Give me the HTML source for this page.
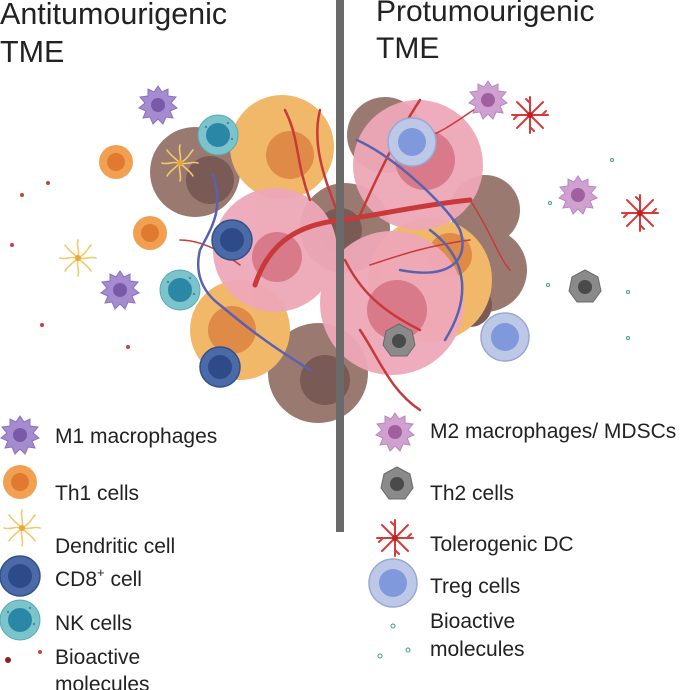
<!DOCTYPE html>
<html><head><meta charset="utf-8"><style>
html,body{margin:0;padding:0;background:#fff;}
body{width:681px;height:690px;overflow:hidden;position:relative;font-family:"Liberation Sans",sans-serif;}
svg{position:absolute;left:0;top:0;}
</style></head><body>
<svg width="681" height="690" viewBox="0 0 681 690" xmlns="http://www.w3.org/2000/svg">
<defs>
<g id="m1"><path d="M0,-19 L4,-13 L10,-16 L10,-9 L18,-8 L13,-2 L19,3 L12,6 L15,13 L8,12 L5,19 L0,14 L-5,19 L-8,12 L-15,13 L-12,6 L-19,3 L-13,-2 L-18,-8 L-10,-9 L-10,-16 L-4,-13 Z" fill="#a58bd0" stroke="#8a70bd" stroke-width="1"/><circle r="7" fill="#7a5aa8"/></g>
<g id="m2"><path d="M0,-19 L4,-13 L10,-16 L10,-9 L18,-8 L13,-2 L19,3 L12,6 L15,13 L8,12 L5,19 L0,14 L-5,19 L-8,12 L-15,13 L-12,6 L-19,3 L-13,-2 L-18,-8 L-10,-9 L-10,-16 L-4,-13 Z" fill="#cfa0d0" stroke="#b887bf" stroke-width="1"/><circle r="7" fill="#a060a0"/></g>
<g id="dc" stroke="#f2c96a" stroke-width="1.6" fill="none" stroke-linecap="round"><path d="M0,0 C2,-8 -2,-12 0,-18 M0,0 C8,-4 10,-10 13,-13 M0,0 C8,2 12,-2 18,0 M0,0 C6,6 10,8 13,13 M0,0 C-2,8 2,12 0,18 M0,0 C-6,6 -10,8 -13,13 M0,0 C-8,-2 -12,2 -18,0 M0,0 C-6,-6 -10,-8 -13,-13"/><circle r="3" fill="#e8a83a" stroke="none"/></g>
<g id="tdc" stroke="#d83a3a" stroke-width="2" fill="none" stroke-linecap="round"><path d="M0,0 L0,-18 M0,0 L13,-13 M0,0 L18,0 M0,0 L13,13 M0,0 L0,18 M0,0 L-13,13 M0,0 L-18,0 M0,0 L-13,-13 M0,-12 l-4,-4 M12,0 l4,-4 M0,12 l4,4 M-12,0 l-4,4"/><circle r="3" fill="#c02020" stroke="none"/></g>
<g id="th1"><circle r="17" fill="#f0a050"/><circle r="9" fill="#e07a30"/></g>
<g id="cd8"><circle r="20" fill="#4a6aa8" stroke="#34508a" stroke-width="1.5"/><circle r="12" fill="#2e4a88"/></g>
<g id="nk"><circle r="20" fill="#7cc4cc" stroke="#5aaab4" stroke-width="1"/><circle r="12" fill="#2a88a6"/><circle cx="-12" cy="-8" r="1.2" fill="#3a90a0"/><circle cx="10" cy="-12" r="1.2" fill="#3a90a0"/><circle cx="14" cy="4" r="1.2" fill="#3a90a0"/></g>
<g id="treg"><circle r="24" fill="#bcc8e6" stroke="#98a8d8" stroke-width="1.5"/><circle r="14" fill="#8098dc"/></g>
<g id="th2"><path d="M0,-17 L13,-10 L16,4 L8,15 L-8,15 L-16,4 L-13,-10 Z" fill="#8a8a8a" stroke="#6a6a6a"/><circle r="7" fill="#4a4a4a"/></g>
</defs>

<g fill="#9a7a70">
<circle cx="195" cy="172" r="45"/>
<circle cx="345" cy="228" r="45"/>
<circle cx="318" cy="373" r="50"/>
<circle cx="385" cy="135" r="38"/>
<circle cx="485" cy="270" r="42"/>
<circle cx="485" cy="210" r="35"/>
</g>
<g fill="#7a5a54">
<circle cx="210" cy="180" r="24"/><circle cx="340" cy="230" r="22"/><circle cx="325" cy="380" r="25"/><circle cx="470" cy="305" r="22"/>
</g>
<g fill="#f0b868">
<circle cx="282" cy="147" r="52"/>
<circle cx="240" cy="330" r="50"/>
<circle cx="430" cy="280" r="62"/>
</g>
<g fill="#e08a48"><circle cx="290" cy="155" r="24"/><circle cx="232" cy="330" r="24"/><circle cx="450" cy="255" r="22"/></g>
<g fill="#eea8b8" opacity="0.95">
<circle cx="275" cy="250" r="62"/>
<circle cx="418" cy="165" r="65"/>
<circle cx="392" cy="303" r="72"/>
</g>
<g fill="#d87a8a"><circle cx="277" cy="257" r="25"/><circle cx="425" cy="160" r="30"/><circle cx="397" cy="310" r="30"/></g>
<g fill="none" stroke="#c83a3a" stroke-linecap="round">
<path d="M255,285 C270,240 300,225 340,220 C380,215 420,205 470,200" stroke-width="5"/>
<path d="M340,220 C330,190 310,150 320,110 M310,200 C295,160 300,140 285,110 M360,215 C380,170 400,130 420,100 M345,260 C360,290 380,310 420,330 M360,330 C380,360 390,390 420,410" stroke-width="2.5"/>
<path d="M370,265 C400,255 430,245 470,240 M240,265 C220,250 200,240 180,240 M420,140 C450,130 470,110 490,100 M470,200 C490,230 500,260 510,270" stroke-width="1.5"/>
</g>
<g fill="none" stroke="#5a62b0" stroke-width="2.5" stroke-linecap="round">
<path d="M213,175 C225,210 210,230 200,250 C195,270 200,290 220,305 C250,330 270,345 310,370"/>
<path d="M357,140 C400,160 450,210 460,230 C470,260 450,280 400,270"/>
<path d="M430,230 C470,260 470,300 445,340"/>
</g>
<rect x="336" y="0" width="8" height="532" fill="#6a6a6a"/>

<use href="#m1" x="158" y="105"/><use href="#m1" x="120" y="290"/>
<use href="#dc" x="180" y="163"/><use href="#dc" x="78" y="258"/>
<use href="#th1" x="116" y="162"/><use href="#th1" x="150" y="233"/>
<use href="#cd8" x="232" y="240"/><use href="#cd8" x="220" y="367"/>
<use href="#nk" x="218" y="135"/><use href="#nk" x="180" y="290"/>
<use href="#treg" x="412" y="142"/><use href="#treg" x="505" y="337"/>
<use href="#th2" x="399" y="341"/><use href="#th2" x="585" y="287"/>
<use href="#m2" x="488" y="100"/><use href="#m2" x="578" y="195"/>
<use href="#tdc" x="530" y="115"/><use href="#tdc" x="640" y="213"/>
<g fill="#c84040"><circle cx="48" cy="183" r="2"/><circle cx="12" cy="245" r="2"/><circle cx="42" cy="325" r="2"/><circle cx="128" cy="347" r="2"/><circle cx="22" cy="195" r="2"/></g>
<g fill="none" stroke="#3aa08a" stroke-width="1"><circle cx="612" cy="160" r="1.5"/><circle cx="548" cy="285" r="1.5"/><circle cx="628" cy="292" r="1.5"/><circle cx="628" cy="338" r="1.5"/><circle cx="550" cy="203" r="1.5"/></g>

<use href="#m1" x="20" y="435"/>
<use href="#th1" x="20" y="482"/>
<use href="#dc" x="22" y="528"/>
<use href="#cd8" x="20" y="576"/>
<use href="#nk" x="20" y="620"/>
<circle cx="8" cy="660" r="3" fill="#8a2020"/><circle cx="40" cy="652" r="2" fill="#c84040"/>
<use href="#m2" x="395" y="432"/>
<use href="#th2" x="397" y="484"/>
<use href="#tdc" x="395" y="538"/>
<use href="#treg" x="393" y="583"/>
<circle cx="393" cy="626" r="2" fill="none" stroke="#3aa08a"/><circle cx="380" cy="656" r="2" fill="none" stroke="#3aa08a"/><circle cx="408" cy="650" r="2" fill="none" stroke="#3aa08a"/>

<g font-family="Liberation Sans, sans-serif" fill="#222">
<text x="0" y="24" font-size="30.5">Antitumourigenic</text>
<text x="0" y="62" font-size="30.5">TME</text>
<text x="376" y="21" font-size="30">Protumourigenic</text>
<text x="376" y="58" font-size="30">TME</text>
<g font-size="21">
<text x="55" y="443">M1 macrophages</text>
<text x="55" y="500">Th1 cells</text>
<text x="55" y="553">Dendritic cell</text>
<text x="55" y="586">CD8<tspan font-size="13" dy="-9">+</tspan><tspan dy="9"> cell</tspan></text>
<text x="55" y="630">NK cells</text>
<text x="55" y="664">Bioactive</text>
<text x="55" y="691">molecules</text>
<text x="430" y="438">M2 macrophages/ MDSCs</text>
<text x="430" y="500">Th2 cells</text>
<text x="430" y="551">Tolerogenic DC</text>
<text x="430" y="593">Treg cells</text>
<text x="430" y="628">Bioactive</text>
<text x="430" y="656">molecules</text>
</g></g>
</svg>
</body></html>
